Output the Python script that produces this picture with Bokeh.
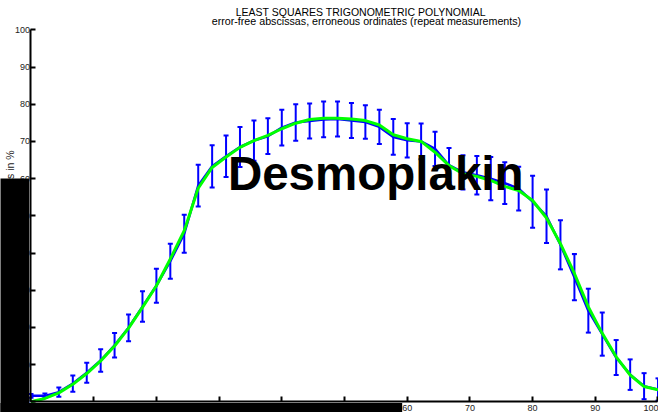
import math
from bokeh.plotting import figure
from bokeh.models import Range1d, Label, BoxAnnotation, FixedTicker, LinearAxis
from bokeh.embed import file_html
from bokeh.resources import INLINE

# ---- data ----
x_vals = [0.00, 2.22, 4.44, 6.67, 8.89, 11.11, 13.33, 15.56, 17.78, 20.00,
          22.22, 24.44, 26.67, 28.89, 31.11, 33.33, 35.56, 37.78, 40.00, 42.22,
          44.44, 46.67, 48.89, 51.11, 53.33, 55.56, 57.78, 60.00, 62.22, 64.44,
          66.67, 68.89, 71.11, 73.33, 75.56, 77.78, 80.00, 82.22, 84.44, 86.67,
          88.89, 91.11, 93.33, 95.56, 97.78, 100.00]

mean_vals = [1.6, 1.6, 2.6, 4.9, 7.8, 11.1, 15.2, 19.9, 25.6, 31.2,
             37.8, 45.2, 58.1, 63.3, 66.0, 68.5, 70.2, 71.4, 73.7, 75.1,
             75.5, 75.9, 76.0, 75.6, 75.2, 73.9, 71.2, 70.3, 70.0, 68.0,
             63.6, 61.7, 60.9, 60.0, 58.8, 57.3, 53.8, 49.9, 42.2, 33.5,
             24.5, 18.2, 11.9, 7.3, 4.2, 3.3]

err_vals = [0.5, 0.6, 1.25, 2.2, 2.7, 3.0, 3.3, 3.6, 4.1, 4.6,
            4.7, 5.1, 5.6, 5.7, 5.6, 5.4, 5.4, 4.8, 4.8, 4.9,
            4.7, 4.8, 4.7, 4.7, 4.5, 4.6, 4.8, 4.6, 4.8, 4.6,
            4.6, 4.6, 5.2, 5.8, 5.6, 5.9, 7.0, 7.2, 6.6, 6.2,
            5.9, 5.8, 4.7, 4.1, 3.5, 3.0]

fit_vals = [0.0, 0.9, 2.4, 4.7, 7.6, 11.0, 15.0, 19.8, 25.4, 31.2,
            38.4, 46.0, 57.4, 63.0, 65.8, 68.4, 70.2, 71.6, 73.4, 74.9,
            75.9, 76.2, 76.2, 76.0, 75.6, 74.4, 71.8, 70.7, 70.0, 67.1,
            63.5, 61.3, 60.6, 59.5, 57.9, 56.8, 54.1, 49.4, 42.5, 34.5,
            25.5, 18.4, 12.1, 7.2, 4.1, 3.2]

x_ticks = [0, 10, 20, 30, 40, 50, 60, 70, 80, 90, 100]
y_ticks = [0, 10, 20, 30, 40, 50, 60, 70, 80, 90, 100]

title_line1 = "LEAST SQUARES TRIGONOMETRIC POLYNOMIAL"
title_line2 = "error-free abscissas, erroneous ordinates (repeat measurements)"
y_label = "Relative protein levels in %"
overlay_text = "Desmoplakin"

FONT = "Liberation Sans"
BLUE = "#0000ff"
GREEN = "#00ff00"

lo_vals = [m - e for m, e in zip(mean_vals, err_vals)]
hi_vals = [m + e for m, e in zip(mean_vals, err_vals)]

# The plotting frame fills the whole canvas; the axes sit at fixed data positions.
p = figure(width=658, height=412,
           x_range=Range1d(-4.864, 100.08), y_range=Range1d(-2.876, 107.88),
           output_backend="svg", toolbar_location=None,
           x_axis_location=None, y_axis_location=None,
           min_border=0, min_border_left=0, min_border_right=0,
           min_border_top=0, min_border_bottom=0)
p.xgrid.visible = False
p.ygrid.visible = False
p.outline_line_color = None
p.background_fill_color = "white"
p.border_fill_color = "white"

xaxis = LinearAxis(fixed_location=0, bounds=(0, 100), ticker=FixedTicker(ticks=x_ticks))
yaxis = LinearAxis(fixed_location=0, bounds=(0, 100), ticker=FixedTicker(ticks=y_ticks))
for ax in (xaxis, yaxis):
    ax.axis_line_width = 2
    ax.axis_line_color = "black"
    ax.major_tick_in = 5
    ax.major_tick_out = 0
    ax.major_tick_line_width = 2
    ax.major_tick_line_color = "black"
    ax.minor_tick_line_color = None
    ax.major_label_text_font = FONT
    ax.major_label_text_font_size = "9px"
    ax.major_label_text_color = "#222222"
xaxis.major_label_standoff = 3
yaxis.major_label_standoff = 1
p.add_layout(xaxis, "below")
p.add_layout(yaxis, "left")

# error bars
p.segment(x0=x_vals, y0=lo_vals, x1=x_vals, y1=hi_vals, line_color=BLUE, line_width=2)
p.scatter(x=x_vals, y=hi_vals, marker="dash", size=5, line_color=BLUE, line_width=2)
p.scatter(x=x_vals, y=lo_vals, marker="dash", size=5, line_color=BLUE, line_width=2)

# mean curve and fitted curve
p.line(x_vals, mean_vals, line_color=BLUE, line_width=2.5)
p.line(x_vals, fit_vals, line_color=GREEN, line_width=3)

# titles
p.add_layout(Label(x=52.6, y=104.8, text=title_line1, text_font=FONT, text_font_size="10.5px",
                   text_align="center", text_baseline="alphabetic", text_color="black"))
p.add_layout(Label(x=53.5, y=102.3, text=title_line2, text_font=FONT, text_font_size="10.7px",
                   text_align="center", text_baseline="alphabetic", text_color="black"))

# y label
p.add_layout(Label(x=-3.27, y=67.6, text=y_label, angle=math.pi / 2, text_font=FONT,
                   text_font_size="10.5px", text_align="right", text_baseline="middle",
                   text_color="#222222"))

# overlay word
p.add_layout(Label(x=31.4, y=61.4, text=overlay_text, text_font=FONT, text_font_size="47.5px",
                   text_font_style="bold", text_baseline="alphabetic", text_color="black"))

# redaction boxes
p.add_layout(BoxAnnotation(left=-10, right=-0.3, bottom=-10, top=60, fill_color="black",
                           fill_alpha=1, line_color=None))
p.add_layout(BoxAnnotation(left=-10, right=59.2, bottom=-10, top=-0.3, fill_color="black",
                           fill_alpha=1, line_color=None))

open("out.html", "w").write(file_html(p, INLINE))
